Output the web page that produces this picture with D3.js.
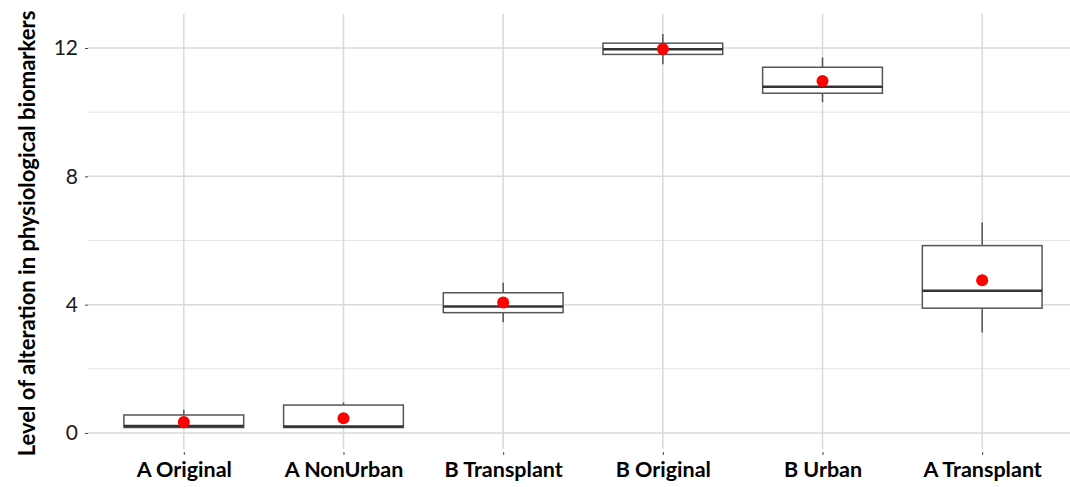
<!DOCTYPE html>
<html>
<head>
<meta charset="utf-8">
<script src="https://cdn.jsdelivr.net/npm/d3@7"></script>
<style>
  html, body { margin: 0; padding: 0; background: #fff; }
  svg { display: block; }
</style>
</head>
<body>
<svg id="chart" width="1070" height="487"></svg>
<script>
// ---- data ----
const categories = ["A Original", "A NonUrban", "B Transplant", "B Original", "B Urban", "A Transplant"];
const whiskerLow  = [0.15, 0.15, 3.45, 11.49, 10.31, 3.13];
const q1          = [0.17, 0.17, 3.75, 11.80, 10.59, 3.89];
const median      = [0.22, 0.20, 3.94, 11.96, 10.79, 4.43];
const q3          = [0.56, 0.87, 4.37, 12.15, 11.40, 5.84];
const whiskerHigh = [0.72, 0.95, 4.68, 12.44, 11.70, 6.56];
const means       = [0.34, 0.46, 4.07, 11.97, 10.97, 4.76];
const majorTicks  = [0, 4, 8, 12];
const minorTicks  = [2, 6, 10];
const yTitle = "Level of alteration in physiological biomarkers";

const rows = categories.map((c, i) => ({
  cat: c, lo: whiskerLow[i], q1: q1[i], med: median[i], q3: q3[i], hi: whiskerHigh[i], mean: means[i]
}));

// ---- layout ----
const svg = d3.select("#chart");
const panel = { left: 88, right: 1078, top: 14, bottom: 449 };
const font = "Lato, 'Open Sans', sans-serif";

const x = d3.scalePoint().domain(categories).range([panel.left, panel.right]).padding(0.6);
const y = d3.scaleLinear().domain([-0.5, 13.06]).range([panel.bottom, panel.top]);
const boxW = x.step() * 0.75;

const grid = svg.append("g");
grid.selectAll("line.minor").data(minorTicks).join("line")
  .attr("x1", panel.left).attr("x2", panel.right)
  .attr("y1", d => y(d)).attr("y2", d => y(d))
  .attr("stroke", "#e3e3e3").attr("stroke-width", 1);
grid.selectAll("line.major").data(majorTicks).join("line")
  .attr("x1", panel.left).attr("x2", panel.right)
  .attr("y1", d => y(d)).attr("y2", d => y(d))
  .attr("stroke", "#d9d9d9").attr("stroke-width", 1.5);
grid.selectAll("line.v").data(categories).join("line")
  .attr("x1", d => x(d)).attr("x2", d => x(d))
  .attr("y1", panel.top).attr("y2", panel.bottom)
  .attr("stroke", "#d9d9d9").attr("stroke-width", 1.5);

// ---- axes ----
const yAxis = svg.append("g")
  .attr("transform", `translate(${panel.left},0)`)
  .call(d3.axisLeft(y).tickValues(majorTicks).tickSize(3).tickPadding(7).tickFormat(d3.format("d")));
yAxis.select(".domain").remove();
yAxis.selectAll(".tick line").attr("stroke", "#444");
yAxis.selectAll(".tick text")
  .attr("font-family", font)
  .attr("font-size", 21).attr("fill", "#1a1a1a");

const xAxis = svg.append("g")
  .attr("transform", `translate(0,${panel.bottom + 3})`)
  .call(d3.axisBottom(x).tickSize(3).tickPadding(7));
xAxis.select(".domain").remove();
xAxis.selectAll(".tick line").attr("stroke", "#444");
xAxis.selectAll(".tick text")
  .attr("font-family", font)
  .attr("font-weight", "bold")
  .attr("font-size", 21.5).attr("fill", "#000");

svg.append("text")
  .attr("transform", `translate(35,${(panel.top + panel.bottom) / 2 + 2}) rotate(-90)`)
  .attr("text-anchor", "middle")
  .attr("font-family", font)
  .attr("font-weight", "bold")
  .attr("font-size", 22)
  .attr("fill", "#000")
  .text(yTitle);

// ---- boxplots ----
const boxes = svg.append("g").selectAll("g").data(rows).join("g");
boxes.append("line")
  .attr("x1", d => x(d.cat)).attr("x2", d => x(d.cat))
  .attr("y1", d => y(d.hi)).attr("y2", d => y(d.q3))
  .attr("stroke", "#555").attr("stroke-width", 1.5);
boxes.append("line")
  .attr("x1", d => x(d.cat)).attr("x2", d => x(d.cat))
  .attr("y1", d => y(d.q1)).attr("y2", d => y(d.lo))
  .attr("stroke", "#555").attr("stroke-width", 1.5);
boxes.append("rect")
  .attr("x", d => x(d.cat) - boxW / 2).attr("width", boxW)
  .attr("y", d => y(d.q3)).attr("height", d => y(d.q1) - y(d.q3))
  .attr("fill", "#fff").attr("stroke", "#555").attr("stroke-width", 1.5);
boxes.append("line")
  .attr("x1", d => x(d.cat) - boxW / 2).attr("x2", d => x(d.cat) + boxW / 2)
  .attr("y1", d => y(d.med)).attr("y2", d => y(d.med))
  .attr("stroke", "#333").attr("stroke-width", 2.5);
boxes.append("circle")
  .attr("cx", d => x(d.cat)).attr("cy", d => y(d.mean))
  .attr("r", 6).attr("fill", "#ff0000");
</script>
</body>
</html>
